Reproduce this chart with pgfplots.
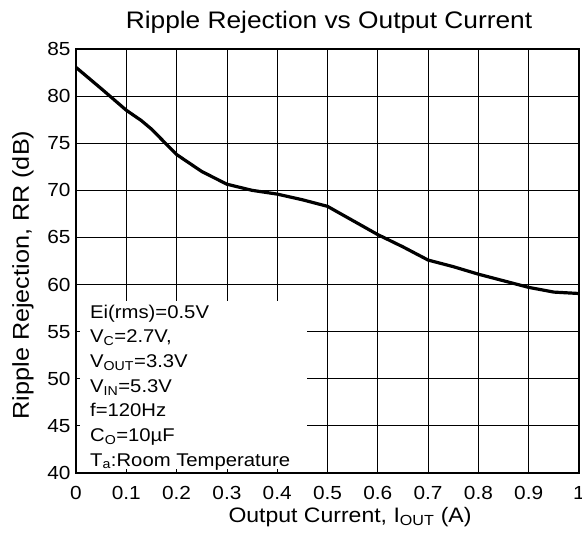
\documentclass[border=0pt]{standalone}
\usepackage{fontspec}
\setmainfont[FakeStretch=1.1]{Liberation Sans}
\usepackage{pgfplots}
\pgfplotsset{compat=1.18}
\begin{document}
\begin{tikzpicture}
\begin{axis}[
  scale only axis,
  width=503bp, height=424bp,
  xmin=0, xmax=1, ymin=40, ymax=85,
  xtick={0,0.1,...,1.01},
  ytick={40,45,...,85},
  xticklabels={0,0.1,0.2,0.3,0.4,0.5,0.6,0.7,0.8,0.9,1},
  grid=major,
  major grid style={black, line width=0.8bp},
  axis line style={black, line width=1.8bp},
  tick style={black, line width=0.8bp},
  major tick length=4bp,
  tick align=inside,
  xtick pos=left, ytick pos=left,
  /pgf/number format/assume math mode=true,
  ticklabel style={font=\fontsize{19}{19}\selectfont},
  xticklabel style={yshift=-10bp},
  yticklabel style={xshift=-2bp},
  clip=false,
]
\fill[white] (axis cs:0,40) rectangle (axis cs:0.46,58.3);
\draw[black, line width=0.8bp]
  (axis cs:0.1,40) -- (axis cs:0.1,40.45) (axis cs:0.2,40) -- (axis cs:0.2,40.45)
  (axis cs:0.3,40) -- (axis cs:0.3,40.45) (axis cs:0.4,40) -- (axis cs:0.4,40.45)
  (axis cs:0,45) -- (axis cs:0.008,45) (axis cs:0,50) -- (axis cs:0.008,50)
  (axis cs:0,55) -- (axis cs:0.008,55);
\draw[black, line width=1.8bp] (axis cs:0,58.5) -- (axis cs:0,40) -- (axis cs:0.47,40);
\addplot[black, line width=3.2bp, mark=none, line join=round] coordinates {
(0,83.05) (0.05,80.8) (0.1,78.5) (0.13,77.4) (0.15,76.5) (0.2,73.8) (0.25,72.0) (0.3,70.65)
(0.35,70.0) (0.4,69.6) (0.45,69.0) (0.5,68.3) (0.55,66.8) (0.6,65.3) (0.65,64.0)
(0.7,62.6) (0.75,61.9) (0.8,61.1) (0.85,60.4) (0.9,59.7) (0.95,59.2) (1.0,59.05)
};
\begin{scope}[every node/.style={anchor=base west, inner sep=0pt, font=\fontsize{18.5}{18.5}\selectfont}]
\node at (axis cs:0.0278,56.45) {Ei(rms)=0.5V};
\node at (axis cs:0.0278,53.83) {V\textsubscript{C}=2.7V,};
\node at (axis cs:0.0278,51.21) {V\textsubscript{OUT}=3.3V};
\node at (axis cs:0.0278,48.59) {V\textsubscript{IN}=5.3V};
\node at (axis cs:0.0278,45.97) {f=120Hz};
\node at (axis cs:0.0278,43.35) {C\textsubscript{O}=10µF};
\node at (axis cs:0.0278,40.73) {T\textsubscript{a}:Room Temperature};
\end{scope}
\end{axis}
\node[anchor=base, inner sep=0pt, font=\fontsize{24}{24}\selectfont] at (253bp,444bp) {Ripple Rejection vs Output Current};
\node[anchor=base, inner sep=0pt, font=\fontsize{21}{21}\selectfont] at (274bp,-49bp) {Output Current, I\textsubscript{OUT} (A)};
\node[anchor=base, rotate=90, inner sep=0pt, font=\fontsize{23}{23}\selectfont] at (-47bp,198bp) {Ripple Rejection, RR (dB)};
\pgfresetboundingbox
\path[use as bounding box] (-76bp,-68bp) rectangle (506bp,473bp);
\end{tikzpicture}
\end{document}
